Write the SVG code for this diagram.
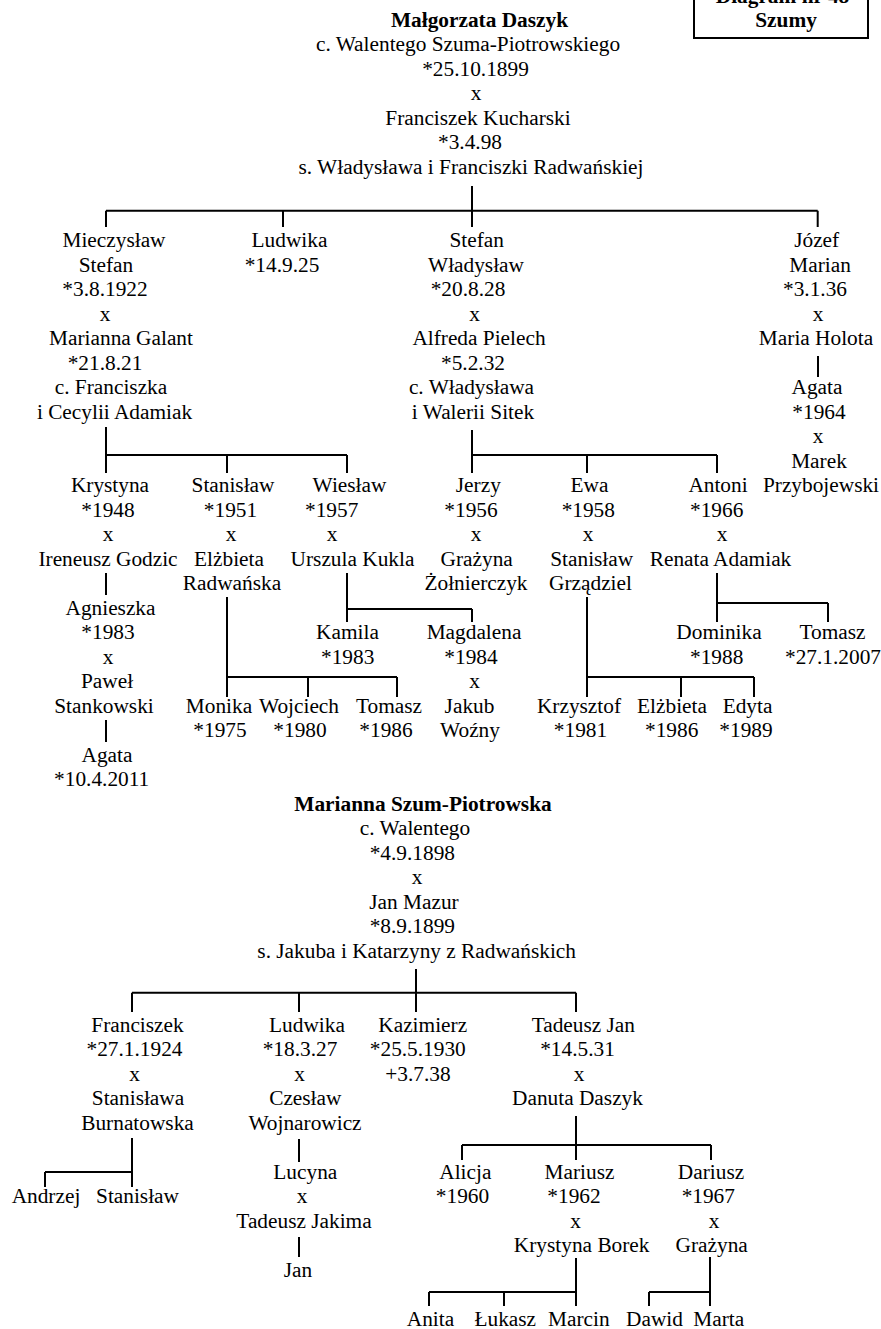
<svg xmlns="http://www.w3.org/2000/svg" width="881" height="1329" viewBox="0 0 881 1329">
<style>
text{font-family:"Liberation Serif","Times New Roman",serif;font-size:21.33px;fill:#000;text-anchor:middle}
.b{font-weight:bold}
.c path,.box{stroke:#000;stroke-width:2;fill:none}
</style>
<rect width="881" height="1329" fill="#fff"/>
<g id="title-box">
<rect class="box" x="694" y="-20" width="174" height="58"/>
<text class="b" x="782.5" y="2.5">Diagram nr 48</text>
<text class="b" x="786" y="26.7">Szumy</text>
</g>
<g class="c" id="connectors">
<path d="M472,186V227M106,210.7H817.7M106,210.7V227M283,210.7V227M817.7,210.7V227"/>
<path d="M106,427V473M106,455H347M227,455V473M347,455V473"/>
<path d="M472,430V473M472,455H717M587,455V473M717,455V473"/>
<path d="M818,356V377"/>
<path d="M106,573V595M106,720V742"/>
<path d="M227,597V697M227,677H397M308,677V697M397,677V697"/>
<path d="M347,573V622M347,609H472M472,609V622"/>
<path d="M587,597V697M587,677H754M681,677V697M754,677V697"/>
<path d="M717,573V622M717,603H828M828,603V622"/>
<path d="M416,969V1012M132,992.7H576M132,992.7V1012M299,992.7V1012M576,992.7V1012"/>
<path d="M132,1138V1187M45,1172H132M45,1172V1187"/>
<path d="M299,1139V1162M299,1237V1257"/>
<path d="M576,1116V1160M462,1145H711M462,1145V1160M711,1145V1160"/>
<path d="M576,1258V1306M429,1292H576M429,1292V1306M504,1292V1306"/>
<path d="M710,1257V1306M649,1292H710M649,1292V1306"/>
</g>
<g id="malgorzata">
<text class="b" x="479.5" y="26.5">Małgorzata Daszyk</text>
<text x="468" y="51">c. Walentego Szuma-Piotrowskiego</text>
<text x="475.5" y="75.5">*25.10.1899</text>
<text x="476" y="100">x</text>
<text x="478" y="124.5">Franciszek Kucharski</text>
<text x="470" y="149">*3.4.98</text>
<text x="471" y="173.5">s. Władysława i Franciszki Radwańskiej</text>
</g>
<g id="mieczyslaw">
<text x="114" y="247">Mieczysław</text>
<text x="106" y="271.5">Stefan</text>
<text x="105" y="296">*3.8.1922</text>
<text x="105" y="320.5">x</text>
<text x="121" y="345">Marianna Galant</text>
<text x="105" y="369.5">*21.8.21</text>
<text x="111" y="394">c. Franciszka</text>
<text x="114.5" y="418.5">i Cecylii Adamiak</text>
</g>
<g id="ludwika1">
<text x="289.5" y="247">Ludwika</text>
<text x="282" y="271.5">*14.9.25</text>
</g>
<g id="stefan">
<text x="476.7" y="247">Stefan</text>
<text x="476" y="271.5">Władysław</text>
<text x="468" y="296">*20.8.28</text>
<text x="474.5" y="320.5">x</text>
<text x="479" y="345">Alfreda Pielech</text>
<text x="473" y="369.5">*5.2.32</text>
<text x="471.5" y="394">c. Władysława</text>
<text x="473" y="418.5">i Walerii Sitek</text>
</g>
<g id="jozef">
<text x="816.7" y="247">Józef</text>
<text x="820" y="271.5">Marian</text>
<text x="815" y="296">*3.1.36</text>
<text x="818" y="320.5">x</text>
<text x="816" y="345">Maria Holota</text>
</g>
<g id="agata1">
<text x="817" y="394">Agata</text>
<text x="819" y="418.5">*1964</text>
<text x="818" y="443">x</text>
<text x="819" y="467.5">Marek</text>
<text x="821" y="492">Przybojewski</text>
</g>
<g id="krystyna">
<text x="110" y="492">Krystyna</text>
<text x="108" y="516.5">*1948</text>
<text x="108" y="541">x</text>
<text x="108" y="565.5">Ireneusz Godzic</text>
</g>
<g id="agnieszka">
<text x="110.5" y="614.5">Agnieszka</text>
<text x="108" y="639">*1983</text>
<text x="108" y="663.5">x</text>
<text x="107" y="688">Paweł</text>
<text x="104" y="712.5">Stankowski</text>
</g>
<g id="agata2">
<text x="107" y="761.5">Agata</text>
<text x="101.7" y="786">*10.4.2011</text>
</g>
<g id="stanislaw1">
<text x="233" y="492">Stanisław</text>
<text x="230.5" y="516.5">*1951</text>
<text x="231" y="541">x</text>
<text x="229" y="565.5">Elżbieta</text>
<text x="232" y="590">Radwańska</text>
</g>
<g id="wieslaw">
<text x="349.5" y="492">Wiesław</text>
<text x="331.7" y="516.5">*1957</text>
<text x="332" y="541">x</text>
<text x="352.5" y="565.5">Urszula Kukla</text>
</g>
<g id="jerzy">
<text x="478.3" y="492">Jerzy</text>
<text x="471" y="516.5">*1956</text>
<text x="476" y="541">x</text>
<text x="476.7" y="565.5">Grażyna</text>
<text x="476" y="590">Żołnierczyk</text>
</g>
<g id="ewa">
<text x="589.5" y="492">Ewa</text>
<text x="588.3" y="516.5">*1958</text>
<text x="588" y="541">x</text>
<text x="591.7" y="565.5">Stanisław</text>
<text x="590.5" y="590">Grządziel</text>
</g>
<g id="antoni">
<text x="718" y="492">Antoni</text>
<text x="716.7" y="516.5">*1966</text>
<text x="722" y="541">x</text>
<text x="720.5" y="565.5">Renata Adamiak</text>
</g>
<g id="kamila"><text x="347.5" y="639">Kamila</text><text x="347.7" y="663.5">*1983</text></g>
<g id="magdalena">
<text x="474" y="639">Magdalena</text>
<text x="471" y="663.5">*1984</text>
<text x="474.5" y="688">x</text>
<text x="469.5" y="712.5">Jakub</text>
<text x="470" y="737">Woźny</text>
</g>
<g id="dominika"><text x="719" y="639">Dominika</text><text x="716.7" y="663.5">*1988</text></g>
<g id="tomasz2"><text x="832.5" y="639">Tomasz</text><text x="833" y="663.5">*27.1.2007</text></g>
<g id="monika"><text x="219" y="712.5">Monika</text><text x="220" y="737">*1975</text></g>
<g id="wojciech"><text x="299" y="712.5">Wojciech</text><text x="300" y="737">*1980</text></g>
<g id="tomasz1"><text x="389" y="712.5">Tomasz</text><text x="386" y="737">*1986</text></g>
<g id="krzysztof"><text x="579" y="712.5">Krzysztof</text><text x="580.5" y="737">*1981</text></g>
<g id="elzbieta"><text x="672" y="712.5">Elżbieta</text><text x="671.7" y="737">*1986</text></g>
<g id="edyta"><text x="747.5" y="712.5">Edyta</text><text x="746" y="737">*1989</text></g>
<g id="marianna">
<text class="b" x="423" y="810.5">Marianna Szum-Piotrowska</text>
<text x="415" y="835">c. Walentego</text>
<text x="412.3" y="859.5">*4.9.1898</text>
<text x="417" y="884">x</text>
<text x="414" y="908.5">Jan Mazur</text>
<text x="412.3" y="933">*8.9.1899</text>
<text x="416.7" y="957.5">s. Jakuba i Katarzyny z Radwańskich</text>
</g>
<g id="franciszek">
<text x="137.5" y="1031.7">Franciszek</text>
<text x="134.5" y="1056.2">*27.1.1924</text>
<text x="134.7" y="1080.7">x</text>
<text x="138" y="1105.2">Stanisława</text>
<text x="137.5" y="1129.7">Burnatowska</text>
</g>
<g id="andrzej"><text x="46" y="1203.2">Andrzej</text></g>
<g id="stanislaw2"><text x="137.5" y="1203.2">Stanisław</text></g>
<g id="ludwika2">
<text x="307" y="1031.7">Ludwika</text>
<text x="300" y="1056.2">*18.3.27</text>
<text x="299.7" y="1080.7">x</text>
<text x="305.3" y="1105.2">Czesław</text>
<text x="305" y="1129.7">Wojnarowicz</text>
</g>
<g id="lucyna">
<text x="305.3" y="1178.7">Lucyna</text>
<text x="302" y="1203.2">x</text>
<text x="304" y="1227.7">Tadeusz Jakima</text>
</g>
<g id="jan"><text x="298" y="1276.7">Jan</text></g>
<g id="kazimierz">
<text x="422.7" y="1031.7">Kazimierz</text>
<text x="417.8" y="1056.2">*25.5.1930</text>
<text x="418" y="1080.7">+3.7.38</text>
</g>
<g id="tadeusz">
<text x="583.3" y="1031.7">Tadeusz Jan</text>
<text x="577.5" y="1056.2">*14.5.31</text>
<text x="579" y="1080.7">x</text>
<text x="577.5" y="1105.2">Danuta Daszyk</text>
</g>
<g id="alicja"><text x="465.3" y="1178.7">Alicja</text><text x="462.5" y="1203.2">*1960</text></g>
<g id="mariusz">
<text x="579.5" y="1178.7">Mariusz</text>
<text x="574" y="1203.2">*1962</text>
<text x="575.5" y="1227.7">x</text>
<text x="581.7" y="1252.2">Krystyna Borek</text>
</g>
<g id="dariusz">
<text x="711" y="1178.7">Dariusz</text>
<text x="708.3" y="1203.2">*1967</text>
<text x="714" y="1227.7">x</text>
<text x="711.7" y="1252.2">Grażyna</text>
</g>
<g id="anita"><text x="430.5" y="1325.7">Anita</text></g>
<g id="lukasz"><text x="505.3" y="1325.7">Łukasz</text></g>
<g id="marcin"><text x="578.8" y="1325.7">Marcin</text></g>
<g id="dawid"><text x="654.5" y="1325.7">Dawid</text></g>
<g id="marta"><text x="718.7" y="1325.7">Marta</text></g>
</svg>
